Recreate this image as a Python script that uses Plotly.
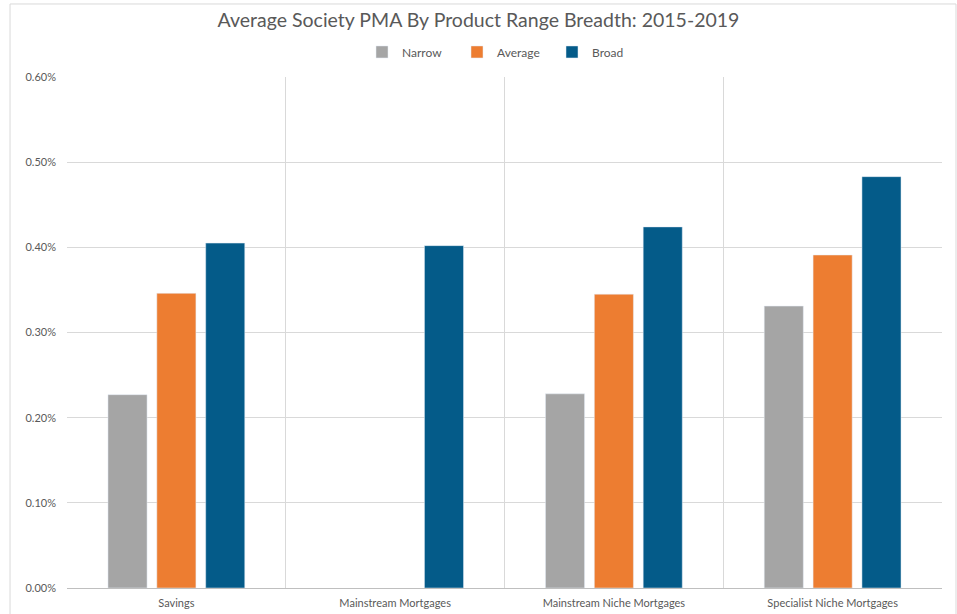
import plotly.graph_objects as go

categories = ["Savings", "Mainstream Mortgages", "Mainstream Niche Mortgages", "Specialist Niche Mortgages"]
narrow = [0.00227, None, 0.00228, 0.00331]
average = [0.00346, None, 0.00345, 0.00391]
broad = [0.00405, 0.00402, 0.00424, 0.00483]
y_ticks = [0, 0.001, 0.002, 0.003, 0.004, 0.005, 0.006]

font_fam = "Lato, 'DejaVu Sans', sans-serif"
txt = "#595959"

fig = go.Figure()
fig.add_bar(name="Narrow", x=categories, y=narrow, marker=dict(color="#a5a5a5"))
fig.add_bar(name="Average", x=categories, y=average, marker=dict(color="#ed7d31"))
fig.add_bar(name="Broad", x=categories, y=broad, marker=dict(color="#045b89"))

fig.update_layout(
    width=957, height=614,
    margin=dict(l=67, r=15, t=77, b=26, autoexpand=False),
    paper_bgcolor="white", plot_bgcolor="white",
    barmode="group", bargap=0.33, bargroupgap=0.2,
    font=dict(family=font_fam, color=txt, size=11),
    title=dict(text="Average Society PMA By Product Range Breadth: 2015-2019",
               x=0.5, xanchor="center", y=0.967, yanchor="middle",
               font=dict(size=19.5, color=txt, family=font_fam)),
    legend=dict(orientation="h", x=0.5, xanchor="center", y=1.049, yanchor="middle",
                font=dict(size=12, color=txt), itemwidth=30, traceorder="normal",
                entrywidth=50, entrywidthmode="pixels"),
    showlegend=True,
)
fig.update_xaxes(
    type="category", tickson="boundaries", showgrid=True, gridcolor="#d9d9d9", gridwidth=1,
    showline=True, linecolor="#bfbfbf", linewidth=1, ticks="", tickfont=dict(size=11, color=txt),
    ticklabelstandoff=5, automargin=False,
)
fig.update_yaxes(
    range=[0, 0.006], tickvals=y_ticks, tickformat=".2%", showgrid=True, gridcolor="#d9d9d9",
    gridwidth=1, zeroline=False, showline=False, ticks="", tickfont=dict(size=11, color=txt),
    ticklabelstandoff=10, automargin=False,
)
# chart area border
fig.add_shape(type="rect", xref="paper", yref="paper", x0=-0.0651, x1=1.0160, y0=-0.07, y1=1.1429,
              line=dict(color="#d9d9d9", width=1), layer="below")
fig.write_html("out.html", config={"displayModeBar": False},
               post_script="document.body.style.margin='0';document.body.style.overflow='hidden';")
